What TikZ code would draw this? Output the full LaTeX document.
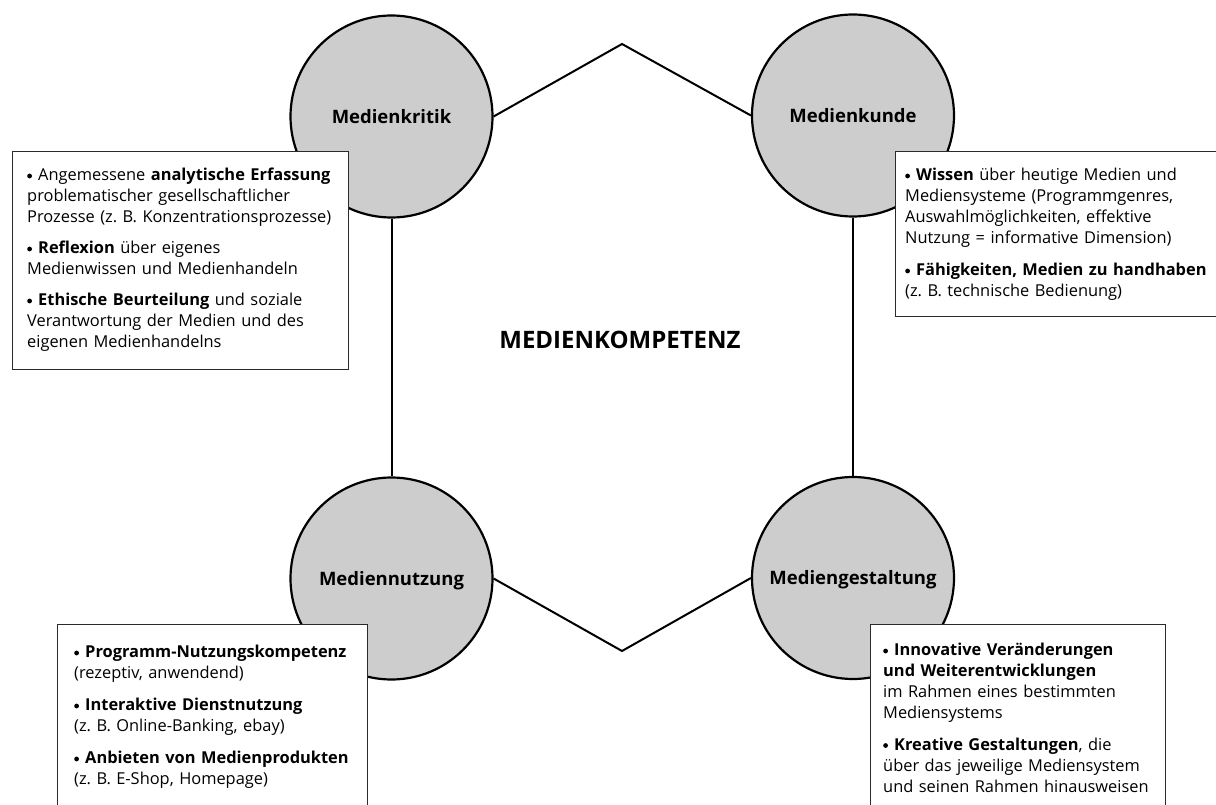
\documentclass[tikz,border=0pt]{standalone}
\usepackage{fontspec}
\setmainfont{Open Sans}
\definecolor{circgray}{HTML}{CDCDCD}
\definecolor{boxgray}{HTML}{2A2A2A}
\newlength\bulw
\setlength\bulw{11pt}
\newcommand\bitem{\hangindent=\bulw\hangafter=1\noindent\makebox[\bulw][l]{\tikz[baseline=0pt,x=1pt,y=1pt]\fill[black] (2.4,4.5) circle (2.4);}}
\begin{document}
\begin{tikzpicture}[x=1pt,y=-1pt,
  circ/.style={circle, draw=black, line width=2.2pt, fill=circgray, minimum size=202pt, inner sep=0pt,
    text height=13.5pt, text depth=0pt, font=\fontsize{18.5}{22}\selectfont\bfseries},
  conn/.style={line width=2pt, line join=miter},
  infobox/.style={draw=boxgray, line width=1.3pt, fill=white, anchor=north west, inner sep=0pt},
  txt/.style={anchor=base west, inner sep=0pt, text width=400pt, align=left,
    font=\fontsize{16.4}{21}\selectfont},
  titlestyle/.style={inner sep=0pt, font=\fontsize{24}{28}\selectfont\bfseries}
]
\useasboundingbox (0,0) rectangle (1216,805);
\clip (0,0) rectangle (1216,805);
\fill[white] (0,0) rectangle (1216,805);

% circles
\node[circ] (kritik) at (391.5,116.5) {Medienkritik};
\node[circ] (kunde) at (853,115.5) {Medienkunde};
\node[circ] (nutzung) at (391.5,578.5) {Mediennutzung};
\node[circ] (gestalt) at (853,578) {Mediengestaltung};

% hexagon connectors
\coordinate (top) at (622,44);
\coordinate (bot) at (622,651);
\draw[conn] (kritik.east) -- (top) -- (kunde.west);
\draw[conn] (nutzung.east) -- (bot) -- (gestalt.west);
\draw[conn] (kritik.south) -- (nutzung.north);
\draw[conn] (kunde.south) -- (gestalt.north);

% title
\node[titlestyle] (mk) at (620,340) {MEDIENKOMPETENZ};

% boxes
\node[infobox, minimum width=336pt, minimum height=218pt] (bkritik) at (12,151) {};
\node[infobox, minimum width=340pt, minimum height=165pt] (bkunde) at (895,151) {};
\node[infobox, minimum width=310pt, minimum height=200pt] (bnutzung) at (57,624) {};
\node[infobox, minimum width=295pt, minimum height=200pt] (bgestalt) at (870,624) {};

% texts
\node[txt] (tkritik) at (27,180.5) {\setlength{\parskip}{10pt}%
\bitem Angemessene \textbf{analytische Erfassung}\\ problematischer gesellschaftlicher\\ Prozesse (z.\ B. Konzentrationsprozesse)\par
\bitem \textbf{Reflexion} über eigenes\\ Medienwissen und Medienhandeln\par
\bitem \textbf{Ethische Beurteilung} und soziale\\ Verantwortung der Medien und des\\ eigenen Medienhandelns\par};

\node[txt] (tkunde) at (905,180.5) {\setlength{\parskip}{11pt}%
\bitem \textbf{Wissen} über heutige Medien und\\ Mediensysteme (Programmgenres,\\ Auswahlmöglichkeiten, effektive\\ Nutzung = informative Dimension)\par
\bitem \textbf{Fähigkeiten, Medien zu handhaben}\\ (z.\ B. technische Bedienung)\par};

\node[txt] (tnutzung) at (74,657.5) {\setlength{\parskip}{11pt}%
\bitem \textbf{Programm-Nutzungskompetenz}\\ (rezeptiv, anwendend)\par
\bitem \textbf{Interaktive Dienstnutzung}\\ (z.\ B. Online-Banking, ebay)\par
\bitem \textbf{Anbieten von Medienprodukten}\\ (z.\ B. E-Shop, Homepage)\par};

\node[txt] (tgestalt) at (883,655.5) {\setlength{\parskip}{10.5pt}%
\bitem \textbf{Innovative Veränderungen}\\ \textbf{und Weiterentwicklungen}\\ im Rahmen eines bestimmten\\ Mediensystems\par
\bitem \textbf{Kreative Gestaltungen}, die\\ über das jeweilige Mediensystem\\ und seinen Rahmen hinausweisen\par};
\end{tikzpicture}
\end{document}
